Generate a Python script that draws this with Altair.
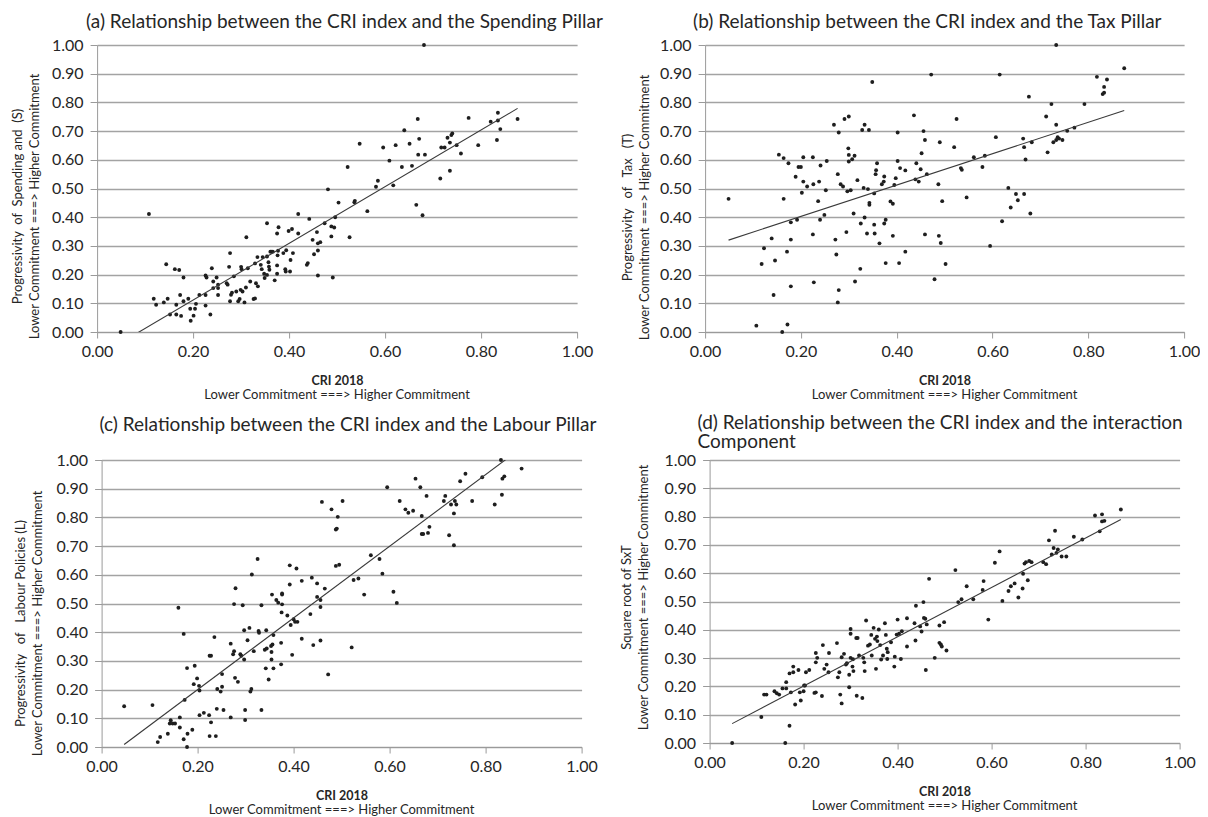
import altair as alt
import pandas as pd

# ---------------- data ----------------
a_x = [0.049,0.108,0.118,0.123,0.139,0.147,0.144,0.152,0.162,0.165,
       0.165,0.171,0.173,0.175,0.180,0.180,0.190,0.194,0.195,0.201,
       0.204,0.206,0.213,0.226,0.226,0.228,0.226,0.236,0.239,0.242,
       0.242,0.249,0.252,0.252,0.252,0.270,0.272,0.275,0.277,0.277,
       0.279,0.281,0.285,0.290,0.294,0.297,0.299,0.300,0.301,0.303,
       0.307,0.310,0.311,0.314,0.319,0.326,0.329,0.329,0.331,0.334,
       0.335,0.341,0.343,0.345,0.348,0.349,0.354,0.354,0.354,0.357,
       0.358,0.359,0.361,0.363,0.366,0.370,0.375,0.375,0.375,0.376,
       0.377,0.378,0.388,0.392,0.393,0.394,0.399,0.403,0.406,0.402,
       0.408,0.419,0.419,0.437,0.439,0.442,0.449,0.452,0.458,0.460,
       0.460,0.460,0.465,0.474,0.481,0.488,0.488,0.491,0.494,0.496,
       0.503,0.522,0.526,0.536,0.537,0.547,0.563,0.581,0.585,0.596,
       0.609,0.617,0.622,0.635,0.640,0.651,0.656,0.665,0.668,0.669,
       0.671,0.678,0.681,0.683,0.715,0.717,0.724,0.730,0.735,0.735,
       0.738,0.740,0.749,0.758,0.774,0.794,0.820,0.833,0.835,0.835,
       0.840,0.876]
a_y = [0.000,0.411,0.116,0.095,0.103,0.116,0.236,0.061,0.219,0.061,
       0.095,0.216,0.129,0.056,0.190,0.107,0.116,0.081,0.039,0.057,
       0.081,0.098,0.129,0.129,0.197,0.190,0.092,0.061,0.222,0.176,
       0.153,0.190,0.165,0.129,0.153,0.170,0.165,0.227,0.275,0.107,
       0.130,0.137,0.194,0.141,0.107,0.115,0.147,0.227,0.219,0.141,
       0.103,0.155,0.330,0.222,0.176,0.115,0.117,0.239,0.170,0.261,
       0.159,0.234,0.219,0.261,0.203,0.188,0.263,0.379,0.199,0.243,
       0.228,0.217,0.280,0.280,0.280,0.180,0.343,0.232,0.203,0.267,
       0.283,0.365,0.275,0.219,0.211,0.285,0.352,0.251,0.359,0.211,
       0.275,0.411,0.343,0.234,0.240,0.394,0.321,0.271,0.348,0.197,
       0.284,0.309,0.313,0.379,0.497,0.333,0.368,0.190,0.364,0.400,
       0.451,0.575,0.330,0.452,0.457,0.656,0.421,0.506,0.527,0.643,
       0.597,0.511,0.651,0.575,0.703,0.656,0.579,0.443,0.742,0.618,
       0.673,0.407,1.000,0.618,0.535,0.643,0.643,0.677,0.562,0.660,
       0.686,0.692,0.651,0.622,0.746,0.651,0.733,0.669,0.764,0.737,
       0.707,0.742]

b_x = [0.049,0.107,0.118,0.123,0.139,0.143,0.146,0.154,0.161,0.164,
       0.164,0.171,0.172,0.174,0.179,0.179,0.179,0.189,0.192,0.195,
       0.200,0.202,0.205,0.205,0.213,0.225,0.225,0.226,0.227,0.236,
       0.238,0.240,0.241,0.249,0.252,0.254,0.269,0.272,0.274,0.277,
       0.277,0.279,0.279,0.283,0.288,0.291,0.295,0.297,0.299,0.300,
       0.300,0.300,0.304,0.307,0.310,0.312,0.313,0.318,0.324,0.325,
       0.328,0.331,0.333,0.333,0.338,0.340,0.342,0.343,0.343,0.349,
       0.353,0.353,0.354,0.356,0.357,0.359,0.364,0.369,0.373,0.374,
       0.374,0.377,0.377,0.387,0.392,0.392,0.395,0.398,0.402,0.402,
       0.405,0.407,0.418,0.418,0.436,0.439,0.441,0.446,0.450,0.452,
       0.456,0.459,0.459,0.463,0.472,0.479,0.487,0.490,0.488,0.492,
       0.495,0.502,0.520,0.525,0.534,0.536,0.546,0.561,0.579,0.584,
       0.595,0.607,0.615,0.620,0.633,0.638,0.649,0.653,0.664,0.666,
       0.666,0.669,0.676,0.679,0.682,0.712,0.715,0.723,0.727,0.733,
       0.733,0.733,0.736,0.739,0.746,0.756,0.771,0.792,0.818,0.830,
       0.833,0.833,0.839,0.875]
b_y = [0.464,0.022,0.237,0.292,0.326,0.129,0.249,0.618,0.000,0.464,
       0.606,0.280,0.026,0.588,0.382,0.322,0.159,0.541,0.391,0.575,
       0.575,0.485,0.524,0.609,0.507,0.340,0.609,0.515,0.173,0.456,
       0.524,0.391,0.580,0.408,0.494,0.596,0.722,0.322,0.270,0.550,
       0.103,0.146,0.695,0.515,0.507,0.742,0.348,0.490,0.640,0.617,
       0.751,0.594,0.494,0.602,0.413,0.614,0.176,0.529,0.220,0.378,
       0.704,0.502,0.399,0.722,0.343,0.498,0.704,0.450,0.443,0.871,
       0.483,0.374,0.343,0.550,0.564,0.588,0.309,0.515,0.524,0.542,
       0.378,0.391,0.240,0.455,0.447,0.335,0.512,0.536,0.596,0.695,
       0.240,0.571,0.563,0.280,0.755,0.532,0.588,0.524,0.567,0.623,
       0.700,0.669,0.340,0.550,0.897,0.184,0.515,0.661,0.335,0.310,
       0.456,0.237,0.644,0.742,0.571,0.565,0.469,0.609,0.575,0.614,
       0.300,0.679,0.897,0.386,0.502,0.434,0.481,0.459,0.674,0.644,
       0.481,0.601,0.820,0.413,0.661,0.751,0.626,0.794,0.661,1.000,
       0.722,0.669,0.679,0.674,0.669,0.701,0.712,0.794,0.889,0.829,
       0.854,0.834,0.880,0.919]

c_x = [0.047,0.106,0.117,0.122,0.138,0.144,0.142,0.148,0.153,0.160,
       0.163,0.163,0.171,0.171,0.173,0.178,0.178,0.179,0.189,0.192,
       0.194,0.199,0.203,0.204,0.204,0.213,0.225,0.228,0.224,0.228,
       0.225,0.235,0.238,0.240,0.241,0.248,0.251,0.251,0.254,0.269,
       0.269,0.274,0.276,0.276,0.279,0.278,0.284,0.289,0.291,0.294,
       0.299,0.299,0.297,0.297,0.304,0.308,0.310,0.312,0.313,0.317,
       0.325,0.327,0.328,0.333,0.333,0.340,0.342,0.343,0.344,0.348,
       0.353,0.354,0.355,0.354,0.356,0.358,0.358,0.364,0.368,0.374,
       0.374,0.375,0.376,0.376,0.376,0.387,0.392,0.392,0.394,0.397,
       0.400,0.403,0.406,0.408,0.417,0.417,0.435,0.438,0.441,0.449,
       0.449,0.456,0.456,0.456,0.459,0.465,0.472,0.479,0.488,0.490,
       0.492,0.488,0.495,0.502,0.521,0.525,0.535,0.547,0.561,0.579,
       0.585,0.595,0.608,0.615,0.621,0.633,0.639,0.649,0.654,0.664,
       0.667,0.667,0.670,0.677,0.680,0.683,0.713,0.716,0.724,0.728,
       0.734,0.734,0.736,0.739,0.747,0.758,0.772,0.793,0.819,0.832,
       0.834,0.835,0.839,0.875]
c_y = [0.142,0.146,0.017,0.035,0.046,0.093,0.082,0.082,0.082,0.485,
       0.103,0.068,0.394,0.027,0.164,0.275,0.000,0.046,0.060,0.219,
       0.283,0.239,0.213,0.197,0.111,0.119,0.318,0.318,0.111,0.086,
       0.038,0.383,0.038,0.133,0.202,0.193,0.254,0.210,0.129,0.360,
       0.103,0.323,0.334,0.498,0.553,0.241,0.227,0.323,0.318,0.494,
       0.094,0.129,0.305,0.407,0.372,0.415,0.193,0.202,0.601,0.334,
       0.655,0.404,0.398,0.494,0.129,0.339,0.274,0.407,0.343,0.235,
       0.352,0.331,0.531,0.305,0.357,0.274,0.390,0.512,0.503,0.288,
       0.363,0.469,0.531,0.497,0.535,0.458,0.633,0.566,0.425,0.321,
       0.445,0.436,0.622,0.436,0.579,0.377,0.463,0.590,0.355,0.570,
       0.523,0.488,0.371,0.512,0.854,0.552,0.253,0.828,0.758,0.761,
       0.802,0.631,0.635,0.857,0.347,0.582,0.587,0.531,0.668,0.655,
       0.604,0.905,0.541,0.502,0.857,0.828,0.816,0.823,0.935,0.905,
       0.805,0.742,0.742,0.875,0.746,0.767,0.857,0.875,0.738,0.845,
       0.703,0.814,0.857,0.845,0.926,0.952,0.857,0.940,0.845,1.000,
       0.879,0.935,0.943,0.970]

d_x = [0.048,0.110,0.116,0.121,0.138,0.143,0.148,0.155,0.161,0.163,
       0.163,0.170,0.170,0.173,0.178,0.178,0.182,0.189,0.192,0.194,
       0.200,0.201,0.203,0.205,0.212,0.223,0.226,0.226,0.226,0.229,
       0.239,0.241,0.244,0.249,0.253,0.254,0.271,0.273,0.276,0.278,
       0.281,0.281,0.286,0.290,0.292,0.297,0.297,0.300,0.300,0.300,
       0.304,0.306,0.305,0.313,0.312,0.315,0.318,0.325,0.327,0.329,
       0.330,0.333,0.337,0.341,0.344,0.345,0.349,0.352,0.354,0.356,
       0.357,0.360,0.363,0.365,0.369,0.373,0.375,0.377,0.378,0.379,
       0.386,0.393,0.394,0.398,0.400,0.403,0.407,0.409,0.420,0.420,
       0.436,0.438,0.439,0.448,0.451,0.455,0.456,0.459,0.460,0.462,
       0.467,0.479,0.489,0.489,0.492,0.494,0.499,0.504,0.523,0.529,
       0.536,0.547,0.561,0.581,0.583,0.593,0.607,0.617,0.623,0.636,
       0.641,0.649,0.657,0.666,0.667,0.670,0.673,0.677,0.680,0.685,
       0.710,0.716,0.722,0.728,0.732,0.735,0.738,0.741,0.749,0.759,
       0.775,0.793,0.820,0.830,0.835,0.835,0.840,0.875]
d_y = [0.000,0.092,0.171,0.171,0.183,0.176,0.171,0.193,0.000,0.215,
       0.193,0.061,0.246,0.179,0.250,0.270,0.136,0.258,0.179,0.150,
       0.183,0.203,0.203,0.250,0.258,0.177,0.179,0.318,0.285,0.301,
       0.166,0.346,0.262,0.277,0.250,0.318,0.353,0.232,0.250,0.171,
       0.140,0.303,0.315,0.277,0.282,0.197,0.241,0.403,0.386,0.301,
       0.270,0.254,0.296,0.167,0.371,0.371,0.309,0.159,0.301,0.285,
       0.254,0.433,0.344,0.348,0.382,0.309,0.407,0.368,0.262,0.376,
       0.360,0.401,0.346,0.295,0.309,0.423,0.382,0.333,0.297,0.321,
       0.356,0.270,0.305,0.383,0.436,0.386,0.297,0.395,0.441,0.341,
       0.423,0.362,0.485,0.412,0.394,0.498,0.442,0.439,0.258,0.419,
       0.580,0.301,0.415,0.354,0.348,0.341,0.427,0.327,0.611,0.498,
       0.508,0.554,0.508,0.541,0.572,0.436,0.637,0.677,0.502,0.537,
       0.554,0.564,0.514,0.546,0.598,0.634,0.639,0.575,0.643,0.639,
       0.639,0.632,0.716,0.666,0.689,0.750,0.672,0.684,0.659,0.659,
       0.729,0.719,0.804,0.748,0.808,0.783,0.785,0.825]

x_ticks = [0.0, 0.2, 0.4, 0.6, 0.8, 1.0]
y_ticks = [0.0, 0.1, 0.2, 0.3, 0.4, 0.5, 0.6, 0.7, 0.8, 0.9, 1.0]

NB = "\u00a0"
titles = [
    "(a) Relationship between the CRI index and the Spending Pillar",
    "(b) Relationship between the CRI index and the Tax Pillar",
    "(c) Relationship between the CRI index and the Labour Pillar",
    ["(d) Relationship between the CRI index and the interaction",
     NB * 8 + "Component"],
]
ytitles = [
    f"Progressivity{NB}{NB}of{NB}{NB}Spending{NB}and{NB}{NB}(S)",
    f"Progressivity{NB}{NB}{NB}of{NB}{NB}{NB}Tax{NB}{NB}{NB}(T)",
    f"Progressivity{NB}{NB}{NB}of{NB}{NB}{NB}Labour Policies (L)",
    "Square root of SxT",
]
caption = "Lower Commitment ===> Higher Commitment"
xtitle = "CRI 2018"

FONT = "Lato"
TXT = "#262626"
GRID = "#a3a3a3"
AXC = "#9a9a9a"


def panel(xs, ys, title, ytitle, w, h, tdx, toff, tx, ty):
    df = pd.DataFrame({"cri": xs, "val": ys})
    xaxis = alt.Axis(values=x_ticks, tickCount=6, format=".2f", grid=False,
                     title=xtitle, titleFontWeight="bold",
                     titleFontSize=12.5, titleColor=TXT, titlePadding=15,
                     labelFontSize=16, labelColor=TXT,
                     labelPadding=5, tickSize=6, tickColor=AXC,
                     domainColor=AXC, labelFlush=False, labelOverlap=False)
    yaxis = alt.Axis(values=y_ticks, tickCount=11, format=".2f", grid=True,
                     gridColor=GRID, gridWidth=1.3,
                     title=[ytitle, caption], titleFontWeight="normal",
                     titleFontSize=13, titleColor=TXT,
                     titleLineHeight=17, titleX=tx, titleY=ty,
                     labelFontSize=16, labelColor=TXT,
                     labelPadding=7, tickSize=7, tickColor=AXC,
                     domainColor=AXC, labelFlush=False, labelOverlap=False)
    xsc = alt.Scale(domain=[0, 1], nice=False, zero=False)
    ysc = alt.Scale(domain=[0, 1], nice=False, zero=False)
    base = alt.Chart(df)
    pts = base.mark_circle(size=15, color="#1e1e1e", opacity=1).encode(
        x=alt.X("cri:Q", scale=xsc, axis=xaxis),
        y=alt.Y("val:Q", scale=ysc, axis=yaxis))
    line = base.transform_regression("cri", "val").mark_line(
        color="#3a3a3a", strokeWidth=1.1, clip=True
    ).encode(x=alt.X("cri:Q", scale=xsc, axis=xaxis),
             y=alt.Y("val:Q", scale=ysc, axis=yaxis))
    cap = alt.Chart(pd.DataFrame({"t": [caption]})).mark_text(
        fontSize=13, color=TXT, baseline="middle", align="center"
    ).encode(text="t:N", x=alt.value(w / 2), y=alt.value(h + 63))
    return alt.layer(pts, line, cap).properties(
        width=w, height=h,
        title=alt.TitleParams(text=title, anchor="start", frame="group",
                              dx=tdx, offset=toff,
                              fontSize=19, fontWeight="normal", color=TXT,
                              font=FONT, lineHeight=19),
    )


pa = panel(a_x, a_y, titles[0], ytitles[0], 480, 287, -11, 5, -73, 161)
pb = panel(b_x, b_y, titles[1], ytitles[1], 479, 287, -12, 5, -71, 162)
pc = panel(c_x, c_y, titles[2], ytitles[2], 480, 287, -2, 17, -74, 163)
pd_ = panel(d_x, d_y, titles[3], ytitles[3], 470, 283, -12, 0, -76, 137)

row1 = alt.hconcat(pa, pb, spacing=18)
row2 = alt.hconcat(pc, pd_, spacing=22)
chart = alt.vconcat(row1, row2, spacing=12, center=True).properties(
    padding={"left": 3, "top": 5, "right": 0, "bottom": 0}
).configure(font=FONT).configure_view(stroke=None)

chart.save("out.html", embed_options={"renderer": "svg", "actions": False})
